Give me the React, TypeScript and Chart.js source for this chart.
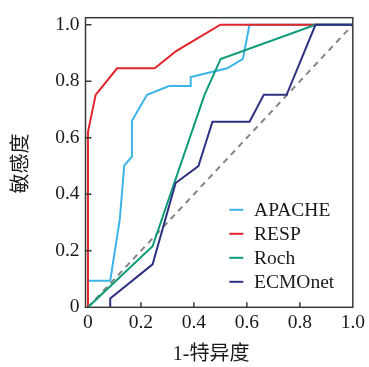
import React, { useEffect, useRef } from 'react';
import { Chart, registerables } from 'chart.js';

Chart.register(...registerables);

const seriesNames = ['APACHE', 'RESP', 'Roch', 'ECMOnet'];
const seriesColors = ['#3cb4e6', '#e3242b', '#0b9b78', '#2d3282'];

const apacheX = [0, 0.084, 0.12, 0.137, 0.166, 0.166, 0.223, 0.306, 0.388, 0.388, 0.526, 0.585, 0.61, 1.0];
const apacheY = [0.094, 0.094, 0.31, 0.502, 0.533, 0.66, 0.752, 0.783, 0.783, 0.815, 0.846, 0.879, 1.0, 1.0];
const respX = [0, 0, 0.029, 0.11, 0.252, 0.333, 0.5, 1.0];
const respY = [0, 0.62, 0.752, 0.846, 0.846, 0.907, 1.0, 1.0];
const rochX = [0, 0.244, 0.44, 0.501, 0.859, 1.0];
const rochY = [0, 0.216, 0.752, 0.879, 1.0, 1.0];
const ecmoX = [0.084, 0.084, 0.244, 0.331, 0.417, 0.47, 0.61, 0.664, 0.75, 0.859, 1.0];
const ecmoY = [0, 0.031, 0.152, 0.44, 0.5, 0.657, 0.657, 0.752, 0.752, 1.0, 1.0];
const refX = [0, 1];
const refY = [0, 1];

const xTicks = [0, 0.2, 0.4, 0.6, 0.8, 1.0];
const yTicks = [0, 0.2, 0.4, 0.6, 0.8, 1.0];
const xTitle = '1-特异度';
const yTitle = '敏感度';

const SERIF = "'Liberation Serif', 'Times New Roman', 'Noto Sans CJK SC', serif";
const TEXT_COLOR = '#1a1a1a';
const FRAME_COLOR = '#3a3a3a';

const toPoints = (xs: number[], ys: number[]) => xs.map((x, i) => ({ x, y: ys[i] }));
const fmt = (v: number) => (v === 0 ? '0' : v.toFixed(1));

const decorPlugin = {
  id: 'decor',
  afterDraw(chart: any) {
    const { ctx, chartArea: a, scales } = chart;
    ctx.save();
    // frame
    ctx.strokeStyle = FRAME_COLOR;
    ctx.lineWidth = 1.5;
    ctx.strokeRect(a.left, a.top, a.right - a.left, a.bottom - a.top);
    // inward ticks
    ctx.beginPath();
    xTicks.forEach((v) => {
      if (v <= 0 || v >= 1) return;
      const px = scales.x.getPixelForValue(v);
      ctx.moveTo(px, a.bottom);
      ctx.lineTo(px, a.bottom - 5);
    });
    yTicks.forEach((v) => {
      if (v <= 0) return;
      const py = scales.y.getPixelForValue(v);
      ctx.moveTo(a.left, py);
      ctx.lineTo(a.left + 6, py);
    });
    ctx.stroke();

    // legend
    ctx.font = `19.5px ${SERIF}`;
    ctx.textBaseline = 'middle';
    ctx.textAlign = 'left';
    seriesNames.forEach((name, i) => {
      const y = a.bottom - 97.5 + i * 24;
      ctx.strokeStyle = seriesColors[i];
      ctx.lineWidth = 2;
      ctx.beginPath();
      ctx.moveTo(a.right - 123.5, y);
      ctx.lineTo(a.right - 109.5, y);
      ctx.stroke();
      ctx.fillStyle = TEXT_COLOR;
      ctx.fillText(name, a.right - 98.7, y + 1);
    });

    // axis titles
    ctx.font = `20px ${SERIF}`;
    ctx.fillStyle = TEXT_COLOR;
    ctx.textAlign = 'center';
    ctx.textBaseline = 'middle';
    ctx.fillText(xTitle, (a.left + a.right) / 2 - 8, 355);
    ctx.save();
    ctx.translate(21.5, (a.top + a.bottom) / 2 + 1);
    ctx.rotate(-Math.PI / 2);
    ctx.fillText(yTitle, 0, 0);
    ctx.restore();

    ctx.restore();
  },
};

export default function App() {
  const canvasRef = useRef<HTMLCanvasElement | null>(null);

  useEffect(() => {
    const canvas = canvasRef.current;
    if (!canvas) return;
    const lineDs = (label: string, xs: number[], ys: number[], color: string, order: number) => ({
      label,
      data: toPoints(xs, ys),
      showLine: true,
      borderColor: color,
      backgroundColor: color,
      borderWidth: 2,
      pointRadius: 0,
      pointHoverRadius: 0,
      tension: 0,
      order,
    });
    const chart = new Chart(canvas, {
      type: 'scatter',
      data: {
        datasets: [
          lineDs(seriesNames[0], apacheX, apacheY, seriesColors[0], 3),
          lineDs(seriesNames[1], respX, respY, seriesColors[1], 2),
          lineDs(seriesNames[2], rochX, rochY, seriesColors[2], 1),
          lineDs(seriesNames[3], ecmoX, ecmoY, seriesColors[3], 0),
          {
            ...lineDs('ref', refX, refY, '#858585', 4),
            borderDash: [6, 5],
          },
        ],
      },
      options: {
        responsive: false,
        animation: false,
        layout: { padding: { left: 0, top: 11, right: 11.3, bottom: 0 } },
        plugins: {
          legend: { display: false },
          tooltip: { enabled: false },
        },
        scales: {
          x: {
            type: 'linear',
            min: -0.0093,
            max: 1.0,
            grid: { display: false, drawTicks: false },
            border: { display: false },
            ticks: {
              padding: 4,
              color: TEXT_COLOR,
              font: { family: SERIF, size: 19.5 },
              maxRotation: 0,
              autoSkip: false,
              callback: (v: any) => fmt(Number(v)),
            },
            afterBuildTicks: (scale: any) => {
              scale.ticks = xTicks.map((value) => ({ value }));
            },
            afterFit: (scale: any) => {
              scale.height = 59.7;
            },
          },
          y: {
            type: 'linear',
            min: 0,
            max: 1.025,
            grid: { display: false, drawTicks: false },
            border: { display: false },
            ticks: {
              padding: 6,
              color: TEXT_COLOR,
              font: { family: SERIF, size: 19.5 },
              autoSkip: false,
              callback: (v: any) => fmt(Number(v)),
            },
            afterBuildTicks: (scale: any) => {
              scale.ticks = yTicks.map((value) => ({ value }));
            },
            afterFit: (scale: any) => {
              scale.width = 85.5;
            },
          },
        },
      },
      plugins: [decorPlugin],
    });
    return () => chart.destroy();
  }, []);

  return (
    <div style={{ position: 'absolute', left: 0, top: 0, width: 369, height: 367, background: '#fff' }}>
      <canvas ref={canvasRef} width={369} height={367} style={{ display: 'block' }} />
    </div>
  );
}
